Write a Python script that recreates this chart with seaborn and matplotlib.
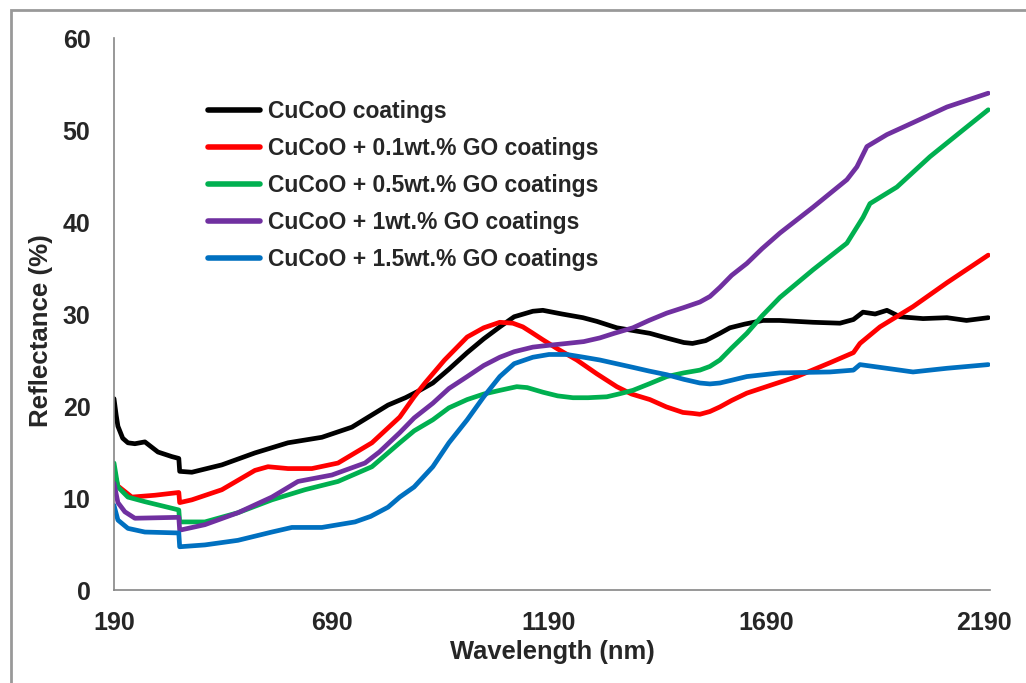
import numpy as np
import pandas as pd
import matplotlib
matplotlib.use("Agg")
import matplotlib.pyplot as plt
import seaborn as sns
from matplotlib.patches import Rectangle

# ---- data ----
series_names = ["CuCoO coatings",
                "CuCoO + 0.1wt.% GO coatings",
                "CuCoO + 0.5wt.% GO coatings",
                "CuCoO + 1wt.% GO coatings",
                "CuCoO + 1.5wt.% GO coatings"]
series_colors = ["#000000", "#FF0000", "#00B050", "#7030A0", "#0070C0"]

wl_black = [190, 195, 199, 210, 222, 238, 261, 291, 323, 339, 341, 369, 438, 514, 590, 668, 737, 820, 860,
            889, 923, 960, 1002, 1040, 1077, 1110, 1153, 1176, 1220, 1268, 1300, 1346, 1422, 1460, 1500,
            1520, 1550, 1583, 1606, 1640, 1682, 1720, 1797, 1859, 1890, 1912, 1940, 1967, 1997, 2050,
            2105, 2150, 2200]
r_black = [20.8, 19.0, 17.8, 16.5, 16.0, 15.9, 16.1, 15.0, 14.5, 14.3, 12.9, 12.8, 13.6, 14.9, 16.0, 16.6,
           17.7, 20.1, 20.9, 21.6, 22.5, 24.0, 25.8, 27.3, 28.6, 29.7, 30.3, 30.4, 30.0, 29.6, 29.2, 28.5,
           27.9, 27.4, 26.9, 26.8, 27.1, 27.9, 28.5, 28.9, 29.3, 29.3, 29.1, 29.0, 29.4, 30.2, 30.0, 30.4,
           29.7, 29.5, 29.6, 29.3, 29.6]

wl_red = [190, 199, 231, 284, 339, 341, 369, 438, 514, 544, 590, 645, 705, 783, 847, 880, 905, 950, 1002,
          1040, 1077, 1107, 1130, 1150, 1176, 1210, 1254, 1300, 1346, 1380, 1422, 1460, 1498, 1520, 1537,
          1560, 1583, 1610, 1645, 1760, 1836, 1890, 1905, 1951, 2027, 2105, 2200]
r_red = [12.8, 11.3, 10.1, 10.3, 10.6, 9.5, 9.8, 10.9, 13.0, 13.4, 13.2, 13.2, 13.8, 16.0, 18.8, 21.0, 22.5,
         25.0, 27.5, 28.5, 29.1, 29.0, 28.6, 28.0, 27.2, 26.2, 25.0, 23.5, 22.1, 21.3, 20.7, 19.9, 19.3,
         19.2, 19.1, 19.4, 19.9, 20.6, 21.4, 23.2, 24.7, 25.8, 26.8, 28.6, 30.8, 33.4, 36.4]

wl_green = [190, 199, 222, 261, 339, 341, 399, 475, 553, 629, 705, 783, 847, 880, 923, 960, 1002, 1040,
            1077, 1116, 1140, 1176, 1210, 1245, 1280, 1323, 1350, 1383, 1420, 1461, 1500, 1537, 1560,
            1583, 1610, 1645, 1680, 1721, 1797, 1875, 1912, 1928, 1990, 2066, 2142, 2200]
r_green = [13.8, 11.2, 10.1, 9.6, 8.7, 7.4, 7.4, 8.4, 9.8, 10.9, 11.8, 13.4, 16.0, 17.3, 18.5, 19.8, 20.7,
           21.3, 21.7, 22.1, 22.0, 21.5, 21.1, 20.9, 20.9, 21.0, 21.3, 21.7, 22.4, 23.2, 23.6, 23.9, 24.3,
           25.0, 26.3, 27.9, 29.8, 31.8, 34.8, 37.7, 40.5, 42.0, 43.8, 47.1, 50.0, 52.2]

wl_purple = [190, 199, 215, 238, 339, 341, 399, 475, 553, 613, 691, 767, 800, 847, 880, 923, 960, 1002,
             1040, 1077, 1110, 1153, 1190, 1231, 1270, 1307, 1340, 1383, 1420, 1461, 1500, 1537, 1560,
             1583, 1610, 1645, 1680, 1721, 1797, 1875, 1898, 1921, 1967, 2027, 2105, 2200]
r_purple = [11.6, 9.5, 8.5, 7.8, 7.9, 6.5, 7.1, 8.4, 10.1, 11.8, 12.5, 13.8, 15.0, 17.1, 18.7, 20.3, 21.9,
            23.2, 24.4, 25.3, 25.9, 26.4, 26.6, 26.8, 27.0, 27.4, 27.9, 28.5, 29.3, 30.1, 30.7, 31.3, 31.9,
            32.9, 34.2, 35.5, 37.1, 38.8, 41.6, 44.6, 46.0, 48.2, 49.5, 50.8, 52.5, 54.0]

wl_blue = [190, 199, 222, 261, 339, 341, 399, 475, 553, 599, 668, 744, 780, 820, 847, 880, 923, 960, 1002,
           1040, 1077, 1110, 1153, 1190, 1231, 1270, 1307, 1345, 1383, 1420, 1461, 1500, 1537, 1560, 1583,
           1610, 1645, 1721, 1836, 1890, 1905, 1951, 2027, 2105, 2200]
r_blue = [9.2, 7.6, 6.7, 6.3, 6.2, 4.7, 4.9, 5.4, 6.3, 6.8, 6.8, 7.4, 8.0, 9.0, 10.1, 11.2, 13.4, 16.0, 18.5,
          21.0, 23.2, 24.6, 25.3, 25.6, 25.6, 25.3, 25.0, 24.6, 24.2, 23.8, 23.4, 22.9, 22.5, 22.4, 22.5,
          22.8, 23.2, 23.6, 23.7, 23.9, 24.5, 24.2, 23.7, 24.1, 24.5]

x_ticks = [190, 690, 1190, 1690, 2190]
y_ticks = [0, 10, 20, 30, 40, 50, 60]

wls = [wl_black, wl_red, wl_green, wl_purple, wl_blue]
rs = [r_black, r_red, r_green, r_purple, r_blue]
df = pd.concat([pd.DataFrame({"Wavelength": w, "Reflectance": r, "Sample": n})
                for w, r, n in zip(wls, rs, series_names)], ignore_index=True)

# ---- style ----
sns.set_style("white")
plt.rcParams["font.family"] = ["Liberation Sans", "DejaVu Sans"]
plt.rcParams["font.weight"] = "bold"

fig = plt.figure(figsize=(10.26, 6.83), dpi=100)
ax = fig.add_axes([114/1026, 1 - 590/683, 876/1026, 552/683])

sns.lineplot(data=df, x="Wavelength", y="Reflectance", hue="Sample",
             palette=dict(zip(series_names, series_colors)), hue_order=series_names,
             estimator=None, sort=False, linewidth=3.4, ax=ax)

ax.set_xlim(190, 2204)
ax.set_ylim(0, 60)
ax.set_xticks(x_ticks)
ax.set_yticks(y_ticks)
ax.tick_params(axis="both", direction="in", length=5, width=1, color="#868686",
               labelsize=18)
ax.tick_params(axis="x", pad=15)
ax.tick_params(axis="y", pad=17)
for lab in ax.get_xticklabels() + ax.get_yticklabels():
    lab.set_fontweight("bold")

for s in ["top", "right"]:
    ax.spines[s].set_visible(False)
for s in ["left", "bottom"]:
    ax.spines[s].set_color("#868686")
    ax.spines[s].set_linewidth(1.2)

ax.set_xlabel("Wavelength (nm)", fontsize=18.4, fontweight="bold", labelpad=4)
ax.set_ylabel("Reflectance (%)", fontsize=18.6, fontweight="bold")
ax.yaxis.set_label_coords(-0.0696, 0.469)

leg = ax.legend(loc="upper left", bbox_to_anchor=(0.107, 0.887), frameon=False,
                fontsize=16.5, handlelength=2.27, handletextpad=0.35, labelspacing=0.61,
                borderaxespad=0, borderpad=0)
for t in leg.get_texts():
    t.set_fontweight("bold")
for l in leg.get_lines():
    l.set_linewidth(4)

fig.patches.append(Rectangle((11/1026, -0.1), 1.2, 1 - 10/683 + 0.1, transform=fig.transFigure,
                             fill=False, edgecolor="#999999", linewidth=2))

fig.savefig("out.png", dpi=100)
